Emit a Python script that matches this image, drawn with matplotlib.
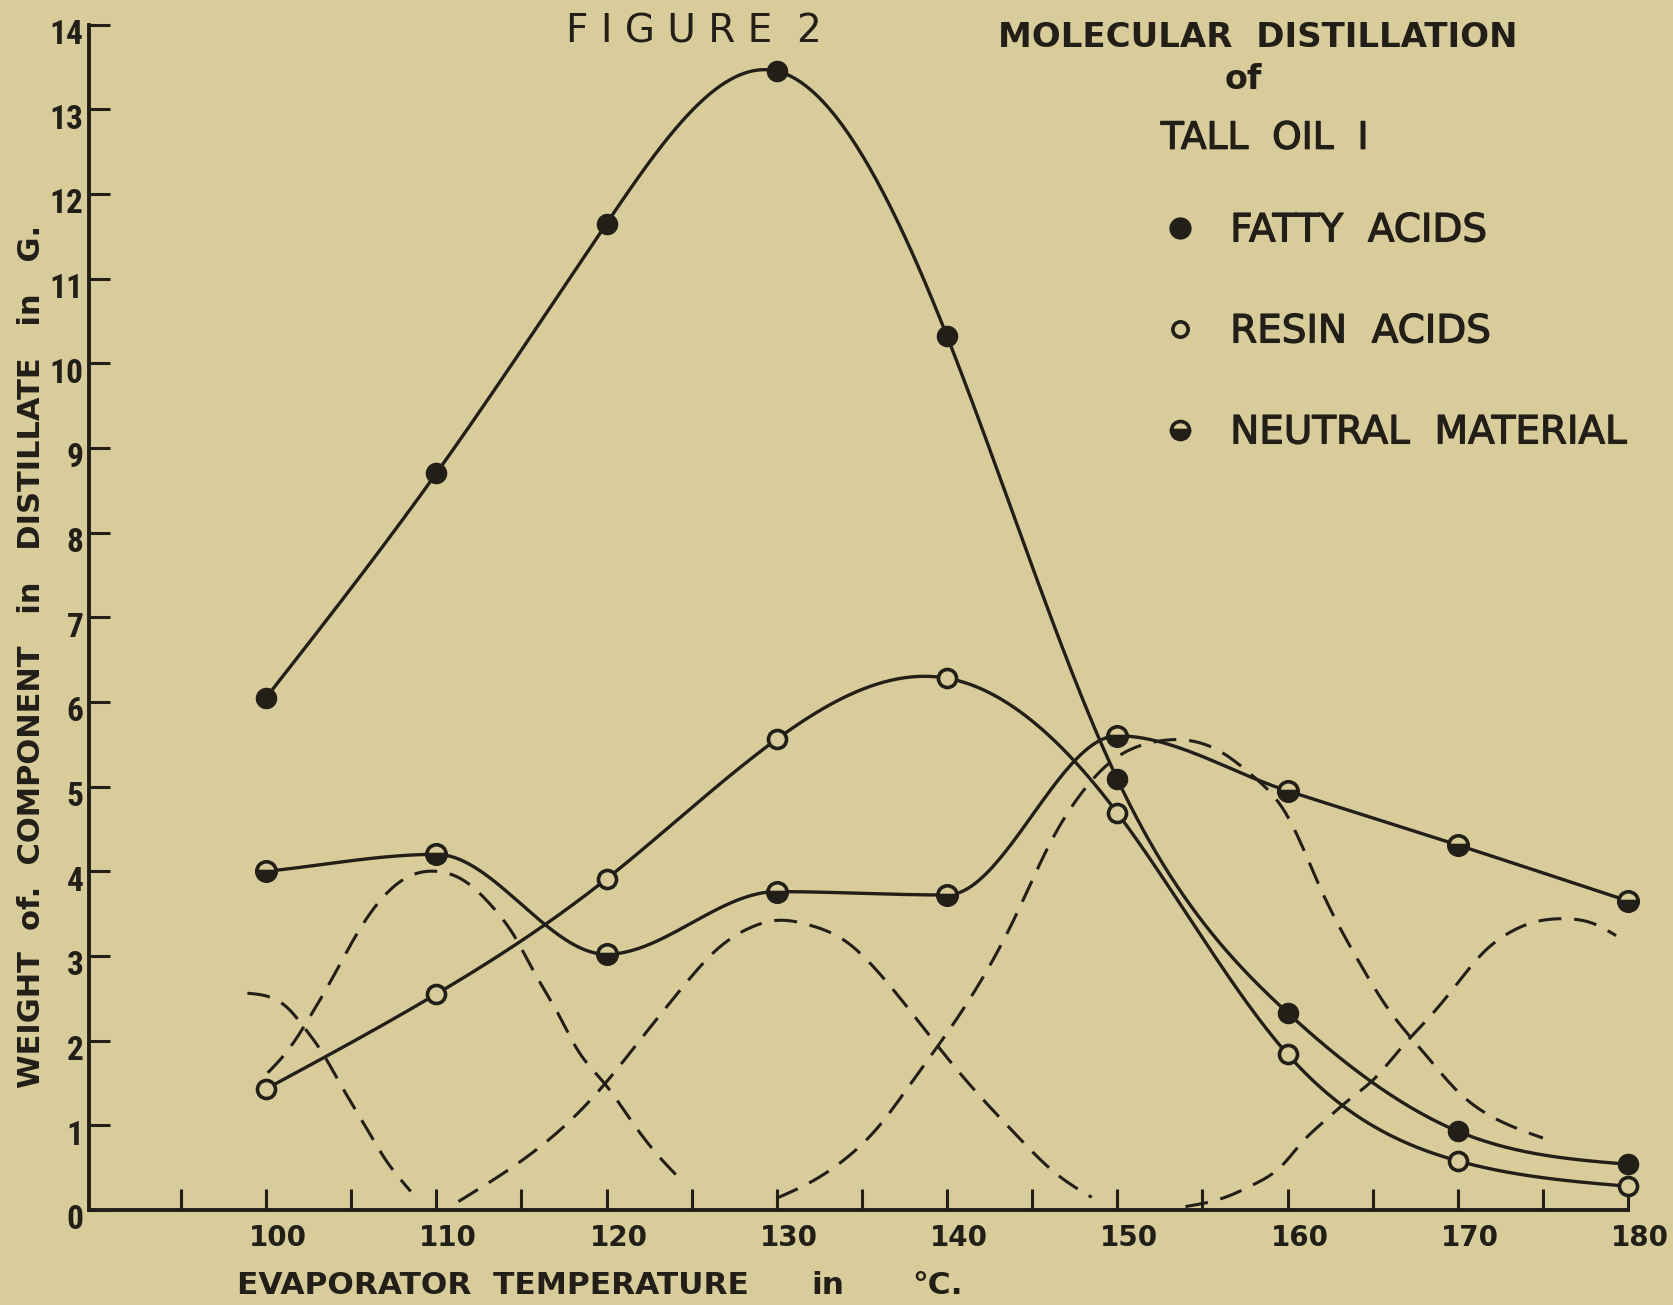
import numpy as np
import matplotlib
matplotlib.use('Agg')
import matplotlib.pyplot as plt
from matplotlib import font_manager
from matplotlib.lines import Line2D
from matplotlib.transforms import ScaledTranslation
import matplotlib.patheffects as pe

# colours of the old paper and the ink
paper = '#d8cc9a'
ink = '#221e18'

# measured points (evaporator temperature, weight in g)
temps = [100, 110, 120, 130, 140, 150, 160, 170, 180]
fatty_acids = [6.05, 8.70, 11.65, 13.45, 10.32, 5.09, 2.33, 0.93, 0.54]
resin_acids = [1.43, 2.55, 3.91, 5.56, 6.28, 4.69, 1.84, 0.58, 0.28]
neutral_material = [4.00, 4.20, 3.02, 3.76, 3.72, 5.60, 4.95, 4.31, 3.65]

# dashed component curves
dash1_x = [98.9, 101.3, 102.3, 103.2, 104.5, 105.8, 107.0, 108.5]
dash1_y = [2.56, 2.38, 2.14, 1.89, 1.44, 1.00, 0.60, 0.22]
dash2_x = [100.1, 101.3, 102.6, 103.9, 105.1, 106.4, 108.3, 110.0, 111.7, 113.3,
           114.6, 115.8, 117.1, 118.3, 119.9, 121.5, 123.0, 124.3]
dash2_y = [1.62, 1.89, 2.29, 2.74, 3.18, 3.58, 3.93, 4.00, 3.88, 3.58,
           3.23, 2.79, 2.34, 1.89, 1.49, 1.04, 0.65, 0.37]
dash3_x = [111.3, 113.3, 115.8, 118.3, 119.9, 122.1, 124.3, 126.5, 128.4, 130.0,
           132.0, 134.0, 136.0, 138.0, 140.0, 142.0, 144.0, 146.4, 148.5]
dash3_y = [0.10, 0.35, 0.70, 1.14, 1.49, 2.04, 2.59, 3.08, 3.33, 3.42,
           3.36, 3.18, 2.80, 2.31, 1.80, 1.33, 0.90, 0.43, 0.15]
dash4_x = [130.0, 132.0, 134.0, 136.0, 138.0, 140.0, 142.0, 144.0, 146.0, 148.0, 150.0,
           152.0, 154.0, 156.0, 158.0, 160.0, 162.0, 164.0, 166.0, 168.0, 170.0, 172.5, 175.0]
dash4_y = [0.14, 0.33, 0.60, 0.99, 1.53, 2.09, 2.71, 3.46, 4.31, 4.95, 5.35,
           5.52, 5.55, 5.42, 5.12, 4.65, 3.77, 3.00, 2.35, 1.86, 1.40, 1.05, 0.85]
dash5_x = [154.0, 156.2, 158.0, 159.7, 160.9, 162.0, 163.6, 165.1, 166.7, 168.3,
           169.8, 171.4, 172.9, 174.5, 176.2, 178.0, 179.3]
dash5_y = [0.04, 0.14, 0.30, 0.53, 0.81, 1.02, 1.30, 1.55, 1.92, 2.27,
           2.63, 3.02, 3.26, 3.40, 3.44, 3.38, 3.24]

y_ticks = list(range(0, 15))
x_ticks = list(range(95, 181, 5))
x_labels = [str(t) if t % 10 == 0 else '' for t in x_ticks]

# narrow lettering for the y numbers if some condensed face is around
names = {f.name for f in font_manager.fontManager.ttflist}
narrow, num_size = 'DejaVu Sans', 19
for cand in ['Liberation Sans Narrow', 'Roboto Condensed', 'Open Sans Condensed',
             'DejaVu Sans Condensed', 'Noto Sans Condensed']:
    if cand in names:
        narrow, num_size = cand, 24
        break


def spline(xs, ys, n=400):
    # natural cubic spline, like a french curve through the points
    x = np.asarray(xs, float)
    y = np.asarray(ys, float)
    h = np.diff(x)
    k = len(x)
    A = np.zeros((k, k))
    r = np.zeros(k)
    A[0, 0] = A[-1, -1] = 1
    for i in range(1, k - 1):
        A[i, i - 1] = h[i - 1]
        A[i, i] = 2 * (h[i - 1] + h[i])
        A[i, i + 1] = h[i]
        r[i] = 6 * ((y[i + 1] - y[i]) / h[i] - (y[i] - y[i - 1]) / h[i - 1])
    m = np.linalg.solve(A, r)
    xx = np.linspace(x[0], x[-1], n)
    j = np.clip(np.searchsorted(x, xx) - 1, 0, k - 2)
    hh = x[j + 1] - x[j]
    a = (x[j + 1] - xx) / hh
    b = (xx - x[j]) / hh
    yy = a * y[j] + b * y[j + 1] + ((a ** 3 - a) * m[j] + (b ** 3 - b) * m[j + 1]) * hh ** 2 / 6
    return xx, yy


def pchip(xs, ys, n=400):
    # shape preserving curve (no overshoot between points)
    x = np.asarray(xs, float)
    y = np.asarray(ys, float)
    h = np.diff(x)
    d = np.diff(y) / h
    k = len(x)
    m = np.zeros(k)
    m[0], m[-1] = d[0], d[-1]
    for i in range(1, k - 1):
        if d[i - 1] * d[i] > 0:
            w1 = 2 * h[i] + h[i - 1]
            w2 = h[i] + 2 * h[i - 1]
            m[i] = (w1 + w2) / (w1 / d[i - 1] + w2 / d[i])
    xx = np.linspace(x[0], x[-1], n)
    j = np.clip(np.searchsorted(x, xx) - 1, 0, k - 2)
    hh = x[j + 1] - x[j]
    t = (xx - x[j]) / hh
    yy = ((2 * t ** 3 - 3 * t ** 2 + 1) * y[j] + (t ** 3 - 2 * t ** 2 + t) * hh * m[j]
          + (-2 * t ** 3 + 3 * t ** 2) * y[j + 1] + (t ** 3 - t ** 2) * hh * m[j + 1])
    return xx, yy


fig = plt.figure(figsize=(16.73, 13.05), dpi=100, facecolor=paper)
ax = fig.add_axes([0.0532, 0.0728, 0.9199, 0.9084])
ax.set_facecolor(paper)
ax.set_xlim(89.6, 180)
ax.set_ylim(0, 14)

# dashed component curves
for dx, dy in [(dash1_x, dash1_y), (dash2_x, dash2_y), (dash3_x, dash3_y),
               (dash4_x, dash4_y), (dash5_x, dash5_y)]:
    sx, sy = spline(dx, dy)
    ax.plot(sx, sy, color=ink, lw=2.2, dashes=(7.5, 4.2), zorder=2, clip_on=False)

# solid curves with measured points
for vals, fit in [(fatty_acids, spline), (resin_acids, spline), (neutral_material, pchip)]:
    sx, sy = fit(temps, vals)
    ax.plot(sx, sy, color=ink, lw=2.4, zorder=3, clip_on=False)

ax.plot(temps, fatty_acids, ls='none', marker='o', ms=14.5, mfc=ink, mec=ink, zorder=5, clip_on=False)
ax.plot(temps, resin_acids, ls='none', marker='o', ms=13, mfc=paper, mec=ink, mew=2.6,
        zorder=5, clip_on=False)
ax.plot(temps, neutral_material, ls='none', marker='o', ms=14, fillstyle='bottom', mfc=ink,
        markerfacecoloralt=paper, mec=ink, mew=2.6, zorder=5, clip_on=False)

# axes in the old drafting style
for side in ['top', 'right']:
    ax.spines[side].set_visible(False)
for side in ['left', 'bottom']:
    ax.spines[side].set_linewidth(2.8)
    ax.spines[side].set_color(ink)

ax.set_yticks(y_ticks)
ax.set_xticks(x_ticks)
ax.set_xticklabels(x_labels)
ax.tick_params(direction='in', length=15, width=2.2, color=ink)
ax.tick_params(axis='x', pad=10)
ax.tick_params(axis='y', pad=4)
for lab in ax.get_yticklabels():
    lab.set_family(narrow)
    lab.set_weight('bold')
    lab.set_fontsize(num_size)
    lab.set_color(ink)
    lab.set_transform(lab.get_transform() + ScaledTranslation(0, -0.07, fig.dpi_scale_trans))
for lab in ax.get_xticklabels():
    lab.set_family('DejaVu Sans')
    lab.set_weight('bold')
    lab.set_fontsize(20)
    lab.set_color(ink)
    lab.set_transform(lab.get_transform() + ScaledTranslation(0.12, 0, fig.dpi_scale_trans))

thick = [pe.withStroke(linewidth=0.9, foreground=ink)]

# axis titles
fig.text(0.019, 0.497, 'WEIGHT  of.  COMPONENT   in   DISTILLATE   in   G.', rotation=90,
         ha='center', va='center', fontsize=22, weight='bold', color=ink)
fig.text(0.1416, 0.0147, 'EVAPORATOR  TEMPERATURE', ha='left', va='center',
         fontsize=22.5, weight='bold', color=ink)
fig.text(0.4847, 0.0147, 'in', ha='left', va='center', fontsize=22.5, weight='bold', color=ink)
fig.text(0.5453, 0.0147, '\u00b0C.', ha='left', va='center', fontsize=22.5, weight='bold', color=ink)

# headings
fig.text(0.4145, 0.9755, 'F I G U R E  2', ha='center', va='center', fontsize=28, color=ink)
fig.text(0.5963, 0.9714, 'MOLECULAR  DISTILLATION', ha='left', va='center',
         fontsize=24.5, weight='bold', color=ink)
fig.text(0.743, 0.9387, 'of', ha='center', va='center', fontsize=24, weight='bold', color=ink)
fig.text(0.6939, 0.8937, 'TALL  OIL  I', ha='left', va='center', fontsize=27,
         color=ink, path_effects=thick)

# key
h_fatty = Line2D([], [], ls='none', marker='o', ms=15, mfc=ink, mec=ink)
h_resin = Line2D([], [], ls='none', marker='o', ms=11, mfc=paper, mec=ink, mew=2.6)
h_neutral = Line2D([], [], ls='none', marker='o', ms=13, fillstyle='bottom', mfc=ink,
                   markerfacecoloralt=paper, mec=ink, mew=2.6)
leg = fig.legend([h_fatty, h_resin, h_neutral],
                 ['FATTY  ACIDS', 'RESIN  ACIDS', 'NEUTRAL  MATERIAL'],
                 loc='upper left', bbox_to_anchor=(0.6958, 0.838), frameon=False,
                 prop={'size': 28}, labelspacing=1.62, handlelength=0.8,
                 handletextpad=0.9, borderpad=0, borderaxespad=0)
for t in leg.get_texts():
    t.set_color(ink)
    t.set_path_effects(thick)

fig.savefig('out.png', dpi=100, facecolor=paper)
